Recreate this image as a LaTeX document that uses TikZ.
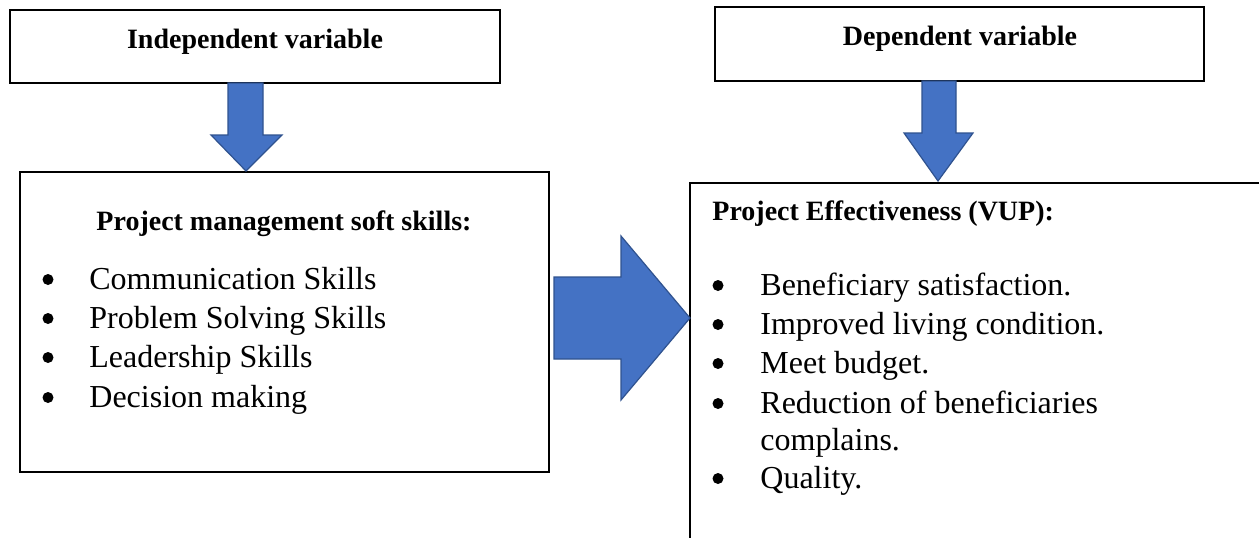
\documentclass[tikz,border=0pt]{standalone}
\usepackage{fontspec}
\setmainfont{Liberation Serif}
\usetikzlibrary{fit}
\definecolor{arrowfill}{HTML}{4472C4}
\definecolor{arrowline}{HTML}{2F528F}
\begin{document}
\begin{tikzpicture}[x=0.5pt,y=-0.5pt,
  box/.style={draw=black,line width=1pt,inner sep=0pt,fill=white},
  blockarrow/.style={fill=arrowfill,draw=arrowline,line width=0.6pt,line join=miter},
  headtxt/.style={font=\fontsize{14}{16}\selectfont\bfseries,inner sep=0pt},
  itemtxt/.style={font=\fontsize{16}{19}\selectfont,inner sep=0pt,anchor=base west},
  bulletdot/.style={circle,fill=black,inner sep=0pt,minimum size=5.5pt}]
\useasboundingbox (0,0) rectangle (1259,537);
\clip (0,0) rectangle (1259,537);
\fill[white] (0,0) rectangle (1259,537);
% boxes
\node[box,fit={(10,10)(500,83)}] (iv) {};
\node[box,fit={(715,7)(1204,81)}] (dv) {};
\node[box,fit={(20,172)(549,472)}] (pm) {};
\node[box,fit={(690,183)(1275,560)}] (pe) {};
% block arrows
\draw[blockarrow] (228,83)--(263,83)--(263,135)--(282,135)--(246,171)--(211,135)--(228,135)--cycle;
\draw[blockarrow] (922,81)--(956,81)--(956,133)--(973,133)--(938,181)--(904,133)--(922,133)--cycle;
\draw[blockarrow] (554,277)--(621,277)--(621,236)--(690,318)--(621,400)--(621,359)--(554,359)--cycle;
% titles
\node[headtxt,anchor=base] (ivt) at (255,48) {Independent variable};
\node[headtxt,anchor=base] (dvt) at (960,45) {Dependent variable};
\node[headtxt,anchor=base] (pmt) at (284,230) {Project management soft skills:};
\node[headtxt,anchor=base west] (pet) at (712,220) {Project Effectiveness (VUP):};
% left list
\foreach \y/\t [count=\i] in {289/Communication Skills,328/Problem Solving Skills,367/Leadership Skills,407/Decision making}{
  \node[bulletdot] (pmb\i) at (48,\y-9.5) {};
  \node[itemtxt] (pmi\i) at (89,\y) {\t};
}
% right list
\foreach \y [count=\i] in {295,334,373,413,488}{
  \node[bulletdot] (peb\i) at (718,\y-9.5) {};
}
\node[itemtxt] (pei1) at (760,295) {Beneficiary satisfaction.};
\node[itemtxt] (pei2) at (760,334) {Improved living condition.};
\node[itemtxt] (pei3) at (760,373) {Meet budget.};
\node[itemtxt] (pei4) at (760,413) {Reduction of beneficiaries};
\node[itemtxt] (pei4b) at (760,450) {complains.};
\node[itemtxt] (pei5) at (760,488) {Quality.};
\end{tikzpicture}
\end{document}
